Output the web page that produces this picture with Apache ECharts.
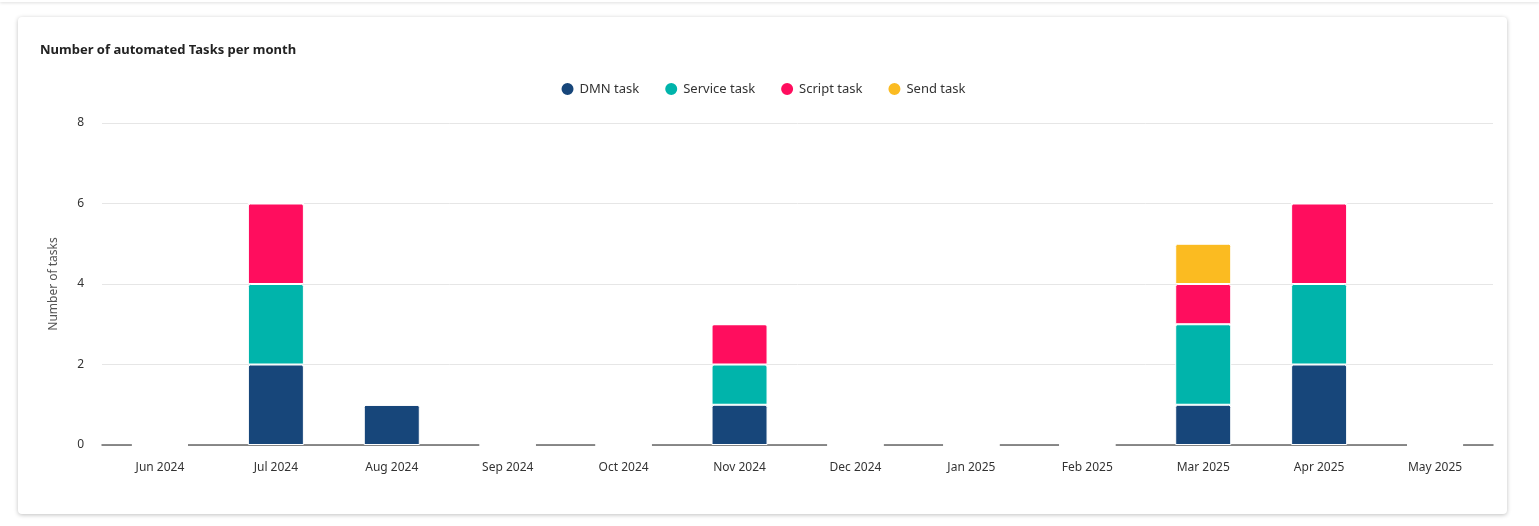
<!DOCTYPE html>
<html><head><meta charset="utf-8">
<script src="https://cdn.jsdelivr.net/npm/echarts@6/dist/echarts.min.js"></script>
<style>
html,body{margin:0;padding:0;background:#fff;width:1539px;height:526px;overflow:hidden;font-family:"Noto Sans",sans-serif}
.top{position:absolute;left:0;top:0;width:1539px;height:2px;box-shadow:0 1px 3px rgba(0,0,0,0.15)}
.card{position:absolute;left:18px;top:17px;width:1489px;height:497px;border-radius:4px;box-shadow:0 1px 4px rgba(0,0,0,0.25);background:#fff}
#c{position:absolute;left:0;top:0;width:1489px;height:497px}
</style></head><body>
<div class="top"></div>
<div class="card"><div id="c"></div></div>
<script>
const categories=["Jun 2024","Jul 2024","Aug 2024","Sep 2024","Oct 2024","Nov 2024","Dec 2024","Jan 2025","Feb 2025","Mar 2025","Apr 2025","May 2025"];
const dmnTask=[0,2,1,0,0,1,0,0,0,1,2,0];
const serviceTask=[0,2,0,0,0,1,0,0,0,2,2,0];
const scriptTask=[0,2,0,0,0,1,0,0,0,1,2,0];
const sendTask=[0,0,0,0,0,0,0,0,0,1,0,0];
const yTicks=[0,2,4,6,8];
const chart=echarts.init(document.getElementById('c'));
function s(name,data,color){return {name,type:'bar',stack:'t',data,barWidth:56,
 itemStyle:{color,borderColor:'#fff',borderWidth:1,borderRadius:[2,2,0,0]}};}
chart.setOption({
 animation:false,
 textStyle:{fontFamily:'"Noto Sans",sans-serif'},
 title:{text:'Number of automated Tasks per month',left:17,top:22,textStyle:{fontSize:13,fontWeight:'bold',color:'#222'}},
 legend:{top:59,left:'center',icon:'circle',itemWidth:14,itemHeight:14,itemGap:24,textStyle:{fontSize:13,color:'#333'}},
 grid:{left:84,right:14,top:106,bottom:69},
 xAxis:{type:'category',data:categories,axisTick:{show:false},
  axisLine:{lineStyle:{color:'#666',width:1.5}},axisLabel:{fontSize:12,color:'#333',margin:17}},
 yAxis:{type:'value',min:yTicks[0],max:yTicks[yTicks.length-1],interval:2,name:'Number of tasks',nameLocation:'middle',nameGap:42,
  nameTextStyle:{fontSize:12,color:'#555'},axisLabel:{fontSize:12,color:'#333',margin:18},
  splitLine:{lineStyle:{color:'#e6e6e6'}}},
 series:[s('DMN task',dmnTask,'#17467a'),s('Service task',serviceTask,'#00b4ab'),s('Script task',scriptTask,'#ff0d5e'),s('Send task',sendTask,'#fbbb21')]
});
</script></body></html>
